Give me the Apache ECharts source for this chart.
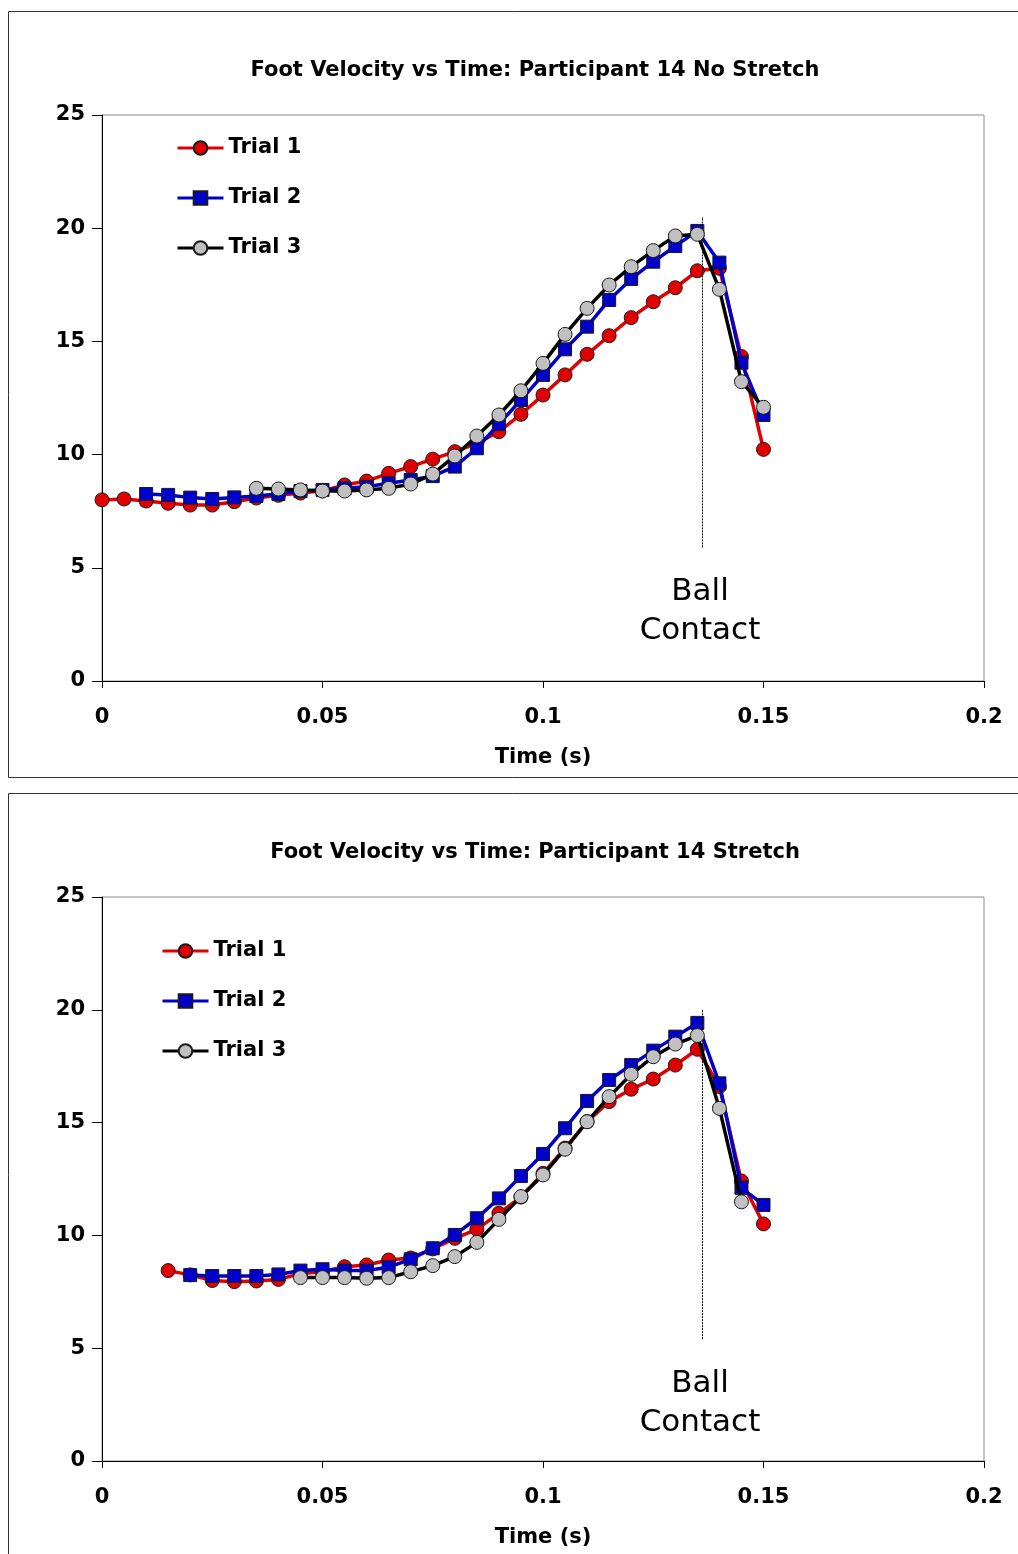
<!DOCTYPE html>
<html>
<head>
<meta charset="utf-8">
<script src="https://cdn.jsdelivr.net/npm/echarts/dist/echarts.min.js"></script>
<style>
html, body { margin: 0; padding: 0; background: #fff; }
#main { width: 1018px; height: 1554px; }
</style>
</head>
<body>
<div id="main"></div>
<script>
// time grid (s)
var times = [0, 0.005, 0.01, 0.015, 0.02, 0.025, 0.03, 0.035, 0.04, 0.045, 0.05,
	0.055, 0.06, 0.065, 0.07, 0.075, 0.08, 0.085, 0.09, 0.095, 0.1,
	0.105, 0.11, 0.115, 0.12, 0.125, 0.13, 0.135, 0.14, 0.145, 0.15];
var trialNames = ['Trial 1', 'Trial 2', 'Trial 3'];
var contactTime = 0.136;

// No Stretch
var noStretch1 = [8.0, 8.04, 7.95, 7.85, 7.77, 7.77, 7.92, 8.08, 8.2, 8.3, 8.4,
	8.66, 8.83, 9.17, 9.47, 9.8, 10.13, 10.5, 11.01, 11.78, 12.63,
	13.52, 14.43, 15.25, 16.05, 16.75, 17.37, 18.12, 18.23, 14.33, 10.23];
var noStretch2 = [8.26, 8.22, 8.10, 8.04, 8.11, 8.17, 8.26, 8.39, 8.44,
	8.51, 8.58, 8.73, 8.88, 9.05, 9.47, 10.28, 11.35, 12.41, 13.52,
	14.65, 15.65, 16.83, 17.76, 18.52, 19.21, 19.88, 18.48, 14.06, 11.75];
var noStretch3 = [8.51, 8.48, 8.44, 8.39, 8.39, 8.44, 8.51, 8.70, 9.14, 9.94,
	10.82, 11.75, 12.82, 14.03, 15.31, 16.46, 17.49, 18.30, 19.01, 19.66,
	19.73, 17.30, 13.22, 12.09];
var noStretchStart = [0, 0.01, 0.035];

// Stretch
var stretch1 = [8.44, 8.25, 8.0, 7.95, 7.98, 8.05, 8.3, 8.4, 8.61, 8.69, 8.91,
	9.0, 9.4, 9.87, 10.27, 10.98, 11.7, 12.75, 13.87, 15.04, 15.93,
	16.48, 16.93, 17.55, 18.25, 16.6, 12.41, 10.51];
var stretch2 = [8.24, 8.20, 8.20, 8.20, 8.27, 8.44, 8.50, 8.44, 8.44, 8.59,
	8.94, 9.43, 10.02, 10.76, 11.64, 12.63, 13.61, 14.75, 15.96, 16.89,
	17.55, 18.19, 18.81, 19.42, 16.74, 12.11, 11.35];
var stretch3 = [8.13, 8.13, 8.13, 8.10, 8.13, 8.39, 8.66, 9.06, 9.69, 10.71,
	11.72, 12.68, 13.82, 15.04, 16.15, 17.14, 17.92, 18.48, 18.86, 15.63, 11.49];
var stretchStart = [0.015, 0.02, 0.045];

// dotted ball contact line ends (velocity)
var contactLineTop = [5.9, 20.5];
var contactLineBottom = [5.4, 20.0];

var FONT = 'DejaVu Sans';
var lineColors = ['#e00000', '#0000cc', '#000000'];
var markerColors = ['#e00000', '#0000cc', '#c0c0c0'];
var markerShapes = ['circle', 'rect', 'circle'];

function toPairs(start, vals) {
	var i0 = times.indexOf(start);
	var out = [];
	for (var i = 0; i < vals.length; i++) {
		out.push([times[i0 + i], vals[i]]);
	}
	return out;
}

function makeSeries(idx, valsList, starts, contactLine) {
	var list = [];
	for (var i = 0; i < 3; i++) {
		var s = {
			name : trialNames[i],
			type : 'line',
			xAxisIndex : idx,
			yAxisIndex : idx,
			data : toPairs(starts[i], valsList[i]),
			symbol : markerShapes[i],
			symbolSize : i == 1 ? 13 : 14,
			showAllSymbol : true,
			animation : false,
			z : 3 + i,
			lineStyle : { color : lineColors[i], width : 3.5 },
			itemStyle : { color : markerColors[i], borderColor : '#1a1a1a', borderWidth : 1 }
		};
		if (i == 0) {
			s.markLine = {
				silent : true,
				symbol : 'none',
				label : { show : false },
				lineStyle : { color : '#000', type : [2, 1], width : 1 },
				data : [ [ { coord : [contactTime, contactLine[0]] }, { coord : [contactTime, contactLine[1]] } ] ]
			};
		}
		list.push(s);
	}
	return list;
}

function makeX(idx) {
	return {
		gridIndex : idx,
		type : 'value',
		min : 0,
		max : 0.2,
		interval : 0.05,
		name : 'Time (s)',
		nameLocation : 'middle',
		nameGap : 66,
		nameTextStyle : { fontFamily : FONT, fontWeight : 'bold', fontSize : 21, color : '#000' },
		axisLine : { show : true, lineStyle : { color : '#000', width : 1 } },
		axisTick : { show : true, length : 7, lineStyle : { color : '#000' } },
		axisLabel : { margin : 26, fontFamily : FONT, fontWeight : 'bold', fontSize : 21, color : '#000' },
		splitLine : { show : false }
	};
}

function makeY(idx) {
	return {
		gridIndex : idx,
		type : 'value',
		min : 0,
		max : 25,
		interval : 5,
		axisLine : { show : true, lineStyle : { color : '#000', width : 1 } },
		axisTick : { show : true, length : 10, lineStyle : { color : '#000' } },
		axisLabel : { margin : 17, fontFamily : FONT, fontWeight : 'bold', fontSize : 21, color : '#000' },
		splitLine : { show : false }
	};
}

function makeLegend(left, top) {
	return {
		data : trialNames,
		orient : 'vertical',
		left : left,
		top : top,
		padding : 0,
		itemWidth : 46,
		itemHeight : 17,
		itemGap : 28,
		selectedMode : false,
		lineStyle : { width : 3 },
		textStyle : { fontFamily : FONT, fontWeight : 'bold', fontSize : 21, lineHeight : 22, color : '#000' }
	};
}

var chart = echarts.init(document.getElementById('main'), null, { renderer : 'canvas' });
var option = {
	backgroundColor : '#fff',
	animation : false,
	title : [ {
		text : 'Foot Velocity vs Time: Participant 14 No Stretch',
		left : 530, top : 55, textAlign : 'center',
		textStyle : { fontFamily : FONT, fontWeight : 'bold', fontSize : 21, color : '#000' }
	}, {
		text : 'Foot Velocity vs Time: Participant 14 Stretch',
		left : 530, top : 837, textAlign : 'center',
		textStyle : { fontFamily : FONT, fontWeight : 'bold', fontSize : 21, color : '#000' }
	} ],
	legend : [ makeLegend(176, 137), makeLegend(161, 940) ],
	grid : [ {
		left : 102, top : 115, width : 882, height : 566,
		show : true, borderColor : '#8c8c8c', borderWidth : 1
	}, {
		left : 102, top : 897, width : 882, height : 564,
		show : true, borderColor : '#8c8c8c', borderWidth : 1
	} ],
	xAxis : [ makeX(0), makeX(1) ],
	yAxis : [ makeY(0), makeY(1) ],
	graphic : [ {
		type : 'rect', silent : true, z : -1,
		shape : { x : 8.5, y : 11.5, width : 1030, height : 766 },
		style : { fill : null, stroke : '#333', lineWidth : 1 }
	}, {
		type : 'rect', silent : true, z : -1,
		shape : { x : 8.5, y : 793.5, width : 1030, height : 780 },
		style : { fill : null, stroke : '#333', lineWidth : 1 }
	}, {
		type : 'text', silent : true,
		style : { text : 'Ball\nContact', x : 700, y : 572, align : 'center', fontFamily : FONT,
			fontSize : 31, lineHeight : 39, fill : '#000' }
	}, {
		type : 'text', silent : true,
		style : { text : 'Ball\nContact', x : 700, y : 1364, align : 'center', fontFamily : FONT,
			fontSize : 31, lineHeight : 39, fill : '#000' }
	} ],
	series : makeSeries(0, [noStretch1, noStretch2, noStretch3], noStretchStart, contactLineTop)
		.concat(makeSeries(1, [stretch1, stretch2, stretch3], stretchStart, contactLineBottom))
};
chart.setOption(option);
</script>
</body>
</html>
